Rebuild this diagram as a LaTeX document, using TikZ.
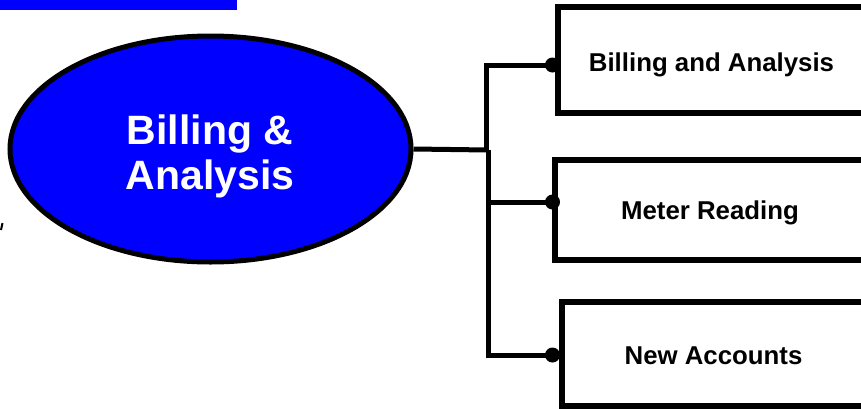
\documentclass[tikz,border=0pt]{standalone}
\usepackage{fontspec}
\setmainfont{Liberation Sans}
\usetikzlibrary{shapes.geometric}
\begin{document}
\begin{tikzpicture}[x=1pt,y=-1pt,
  conn/.style={line width=5pt},
  box/.style={draw, line width=6pt, rectangle, inner sep=0pt, text depth=0pt, font=\bfseries\fontsize{25.8}{30}\selectfont},
  dot/.style={circle, fill=black, minimum size=15pt, inner sep=0pt},
  oval/.style={ellipse, draw, line width=5pt, fill=blue, inner sep=0pt},
  ovaltext/.style={text=white, align=center, inner sep=0pt, font=\bfseries\fontsize{41}{45}\selectfont}]
\useasboundingbox (0,0) rectangle (861,408);
\clip (0,0) rectangle (861,408);
\fill[blue] (0,0) rectangle (237,10);
\draw[line width=2pt] (2.5,223) -- (1,230);
\node[oval, minimum width=401pt, minimum height=226pt] (e) at (210.5,149) {};
\node[ovaltext] (et) at (210,156) {Billing \&\\Analysis};
\node[box, minimum width=307pt, minimum height=106pt, text height=22pt] (b1) at (711.5,60) {Billing and Analysis};
\node[box, minimum width=310pt, minimum height=100pt, text height=18pt] (b2) at (710,210) {Meter Reading};
\node[box, minimum width=303pt, minimum height=104pt, text height=20pt] (b3) at (713.5,354) {New Accounts};
\node[dot] (d1) at (552.5,65) {};
\node[dot] (d2) at (552.5,202) {};
\node[dot] (d3) at (552.5,355) {};
\coordinate (ju) at (486,152);
\coordinate (jd) at (488,150);
\draw[conn] (e.east) -- (jd);
\draw[conn] (ju) |- (d1.center);
\draw[conn] (jd) |- (d3.center);
\draw[conn] (jd |- d2) -- (d2.center);
\end{tikzpicture}
\end{document}
